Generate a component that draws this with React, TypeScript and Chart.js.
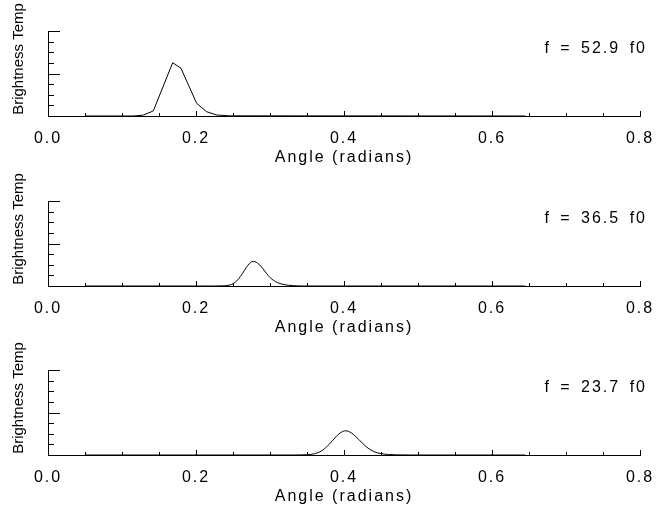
import React, { useEffect, useRef } from "react";
import { Chart, registerables } from "chart.js";

Chart.register(...registerables);

// ---- data ----
const xTickValues = [0, 0.2, 0.4, 0.6, 0.8];
const xTickLabels = ["0.0", "0.2", "0.4", "0.6", "0.8"];
const xTitle = "Angle (radians)";
const yTitle = "Brightness Temp";
const freqLabels = ["f = 52.9 f0", "f = 36.5 f0", "f = 23.7 f0"];

const angles1 = [0.05, 0.115, 0.1288, 0.1423, 0.1685, 0.1797, 0.2009, 0.2145, 0.228, 0.245, 0.645];
const temps1 = [0, 0, 0.01, 0.06, 0.627, 0.561, 0.149, 0.05, 0.012, 0.002, 0];

const angles2 = [0.05, 0.225, 0.235, 0.245, 0.25, 0.255, 0.26, 0.265, 0.27, 0.2775, 0.285, 0.29, 0.295, 0.3, 0.305, 0.31, 0.32, 0.33, 0.345, 0.645];
const temps2 = [0, 0, 0.002, 0.01, 0.027, 0.06, 0.112, 0.178, 0.243, 0.29, 0.257, 0.208, 0.151, 0.1, 0.065, 0.04, 0.015, 0.005, 0, 0];

const angles3 = [0.05, 0.33, 0.34, 0.35, 0.36, 0.37, 0.38, 0.39, 0.396, 0.402, 0.41, 0.42, 0.43, 0.44, 0.45, 0.46, 0.47, 0.49, 0.645];
const temps3 = [0, 0, 0.001, 0.003, 0.015, 0.05, 0.126, 0.223, 0.266, 0.285, 0.26, 0.182, 0.097, 0.042, 0.016, 0.006, 0.002, 0, 0];

const panels = [
  { angles: angles1, temps: temps1, label: freqLabels[0], smooth: false, top: 0 },
  { angles: angles2, temps: temps2, label: freqLabels[1], smooth: true, top: 170 },
  { angles: angles3, temps: temps3, label: freqLabels[2], smooth: true, top: 339 },
];

const FONT = "'Liberation Sans', Arial, sans-serif";

function Panel({ angles, temps, label, smooth }: any) {
  const ref = useRef<HTMLCanvasElement | null>(null);
  useEffect(() => {
    if (!ref.current) return;
    const textPlugin = {
      id: "idlStyle",
      beforeDraw(chart: any) {
        (chart.ctx as any).letterSpacing = "2px";
      },
      afterDraw(chart: any) {
        const ctx = chart.ctx;
        const xs = chart.scales.x;
        const ys = chart.scales.y;
        const area = chart.chartArea;
        ctx.save();
        ctx.strokeStyle = "#000";
        ctx.lineWidth = 1;
        // x ticks (inward)
        for (let i = 0; i <= 16; i++) {
          const v = i * 0.05;
          const px = Math.round(xs.getPixelForValue(v)) + 0.5;
          const len = i % 4 === 0 ? 5 : 3;
          ctx.beginPath();
          ctx.moveTo(px, area.bottom);
          ctx.lineTo(px, area.bottom - len);
          ctx.stroke();
        }
        // y ticks (inward)
        for (let i = 0; i <= 8; i++) {
          const v = i * 0.125;
          const py = Math.round(ys.getPixelForValue(v)) + 0.5;
          const len = i % 4 === 0 ? 12 : 6;
          ctx.beginPath();
          ctx.moveTo(area.left, py);
          ctx.lineTo(area.left + len, py);
          ctx.stroke();
        }
        // frequency label
        ctx.fillStyle = "#000";
        ctx.font = `16px ${FONT}`;
        (ctx as any).letterSpacing = "2px";
        (ctx as any).wordSpacing = "3px";
        ctx.textAlign = "right";
        ctx.textBaseline = "alphabetic";
        ctx.fillText(label, 647, 53);
        // y title
        (ctx as any).letterSpacing = "0px";
        (ctx as any).wordSpacing = "0px";
        ctx.font = `15px ${FONT}`;
        ctx.textAlign = "center";
        ctx.translate(22.5, 59);
        ctx.rotate(-Math.PI / 2);
        ctx.fillText(yTitle, 0, 0);
        ctx.restore();
      },
    };
    const chart = new Chart(ref.current, {
      type: "line",
      data: {
        datasets: [
          {
            data: angles.map((a: number, i: number) => ({ x: a, y: temps[i] })),
            borderColor: "#000",
            borderWidth: 1,
            pointRadius: 0,
            fill: false,
            cubicInterpolationMode: smooth ? "monotone" : "default",
            tension: 0,
            clip: false,
          } as any,
        ],
      },
      options: {
        responsive: false,
        animation: false,
        events: [],
        layout: { padding: { top: 31, right: 18, left: 0, bottom: 0 } },
        plugins: { legend: { display: false }, tooltip: { enabled: false } },
        scales: {
          x: {
            type: "linear",
            min: 0,
            max: 0.8,
            afterBuildTicks: (s: any) => {
              s.ticks = xTickValues.map((v) => ({ value: v }));
            },
            afterFit: (s: any) => {
              s.height = 54;
              s.paddingLeft = 0;
              s.paddingRight = 0;
            },
            ticks: {
              callback: (v: any) => {
                const idx = xTickValues.findIndex((t) => Math.abs(t - Number(v)) < 1e-9);
                return idx >= 0 ? xTickLabels[idx] : "";
              },
              color: "#000",
              font: { family: FONT, size: 16 },
              maxRotation: 0,
              autoSkip: false,
              padding: 13,
            },
            grid: { display: false, drawTicks: false },
            border: { display: true, color: "#000", width: 1 },
            title: {
              display: true,
              text: xTitle,
              color: "#000",
              font: { family: FONT, size: 16 },
              padding: { top: 0, bottom: 3 },
            },
          },
          y: {
            type: "linear",
            min: 0,
            max: 1,
            afterFit: (s: any) => {
              s.width = 48;
              s.paddingTop = 0;
              s.paddingBottom = 0;
            },
            ticks: { display: false },
            grid: { display: false, drawTicks: false },
            border: { display: true, color: "#000", width: 1 },
          },
        },
      } as any,
      plugins: [textPlugin],
    });
    return () => chart.destroy();
  }, [angles, temps, label, smooth]);
  return <canvas ref={ref} width={658} height={170} style={{ display: "block" }} />;
}

export default function App() {
  return (
    <div style={{ position: "absolute", left: 0, top: 0, width: 658, height: 510, background: "#fff" }}>
      {panels.map((p, i) => (
        <div key={i} style={{ position: "absolute", left: 0, top: p.top, width: 658, height: 170 }}>
          <Panel angles={p.angles} temps={p.temps} label={p.label} smooth={p.smooth} />
        </div>
      ))}
    </div>
  );
}
